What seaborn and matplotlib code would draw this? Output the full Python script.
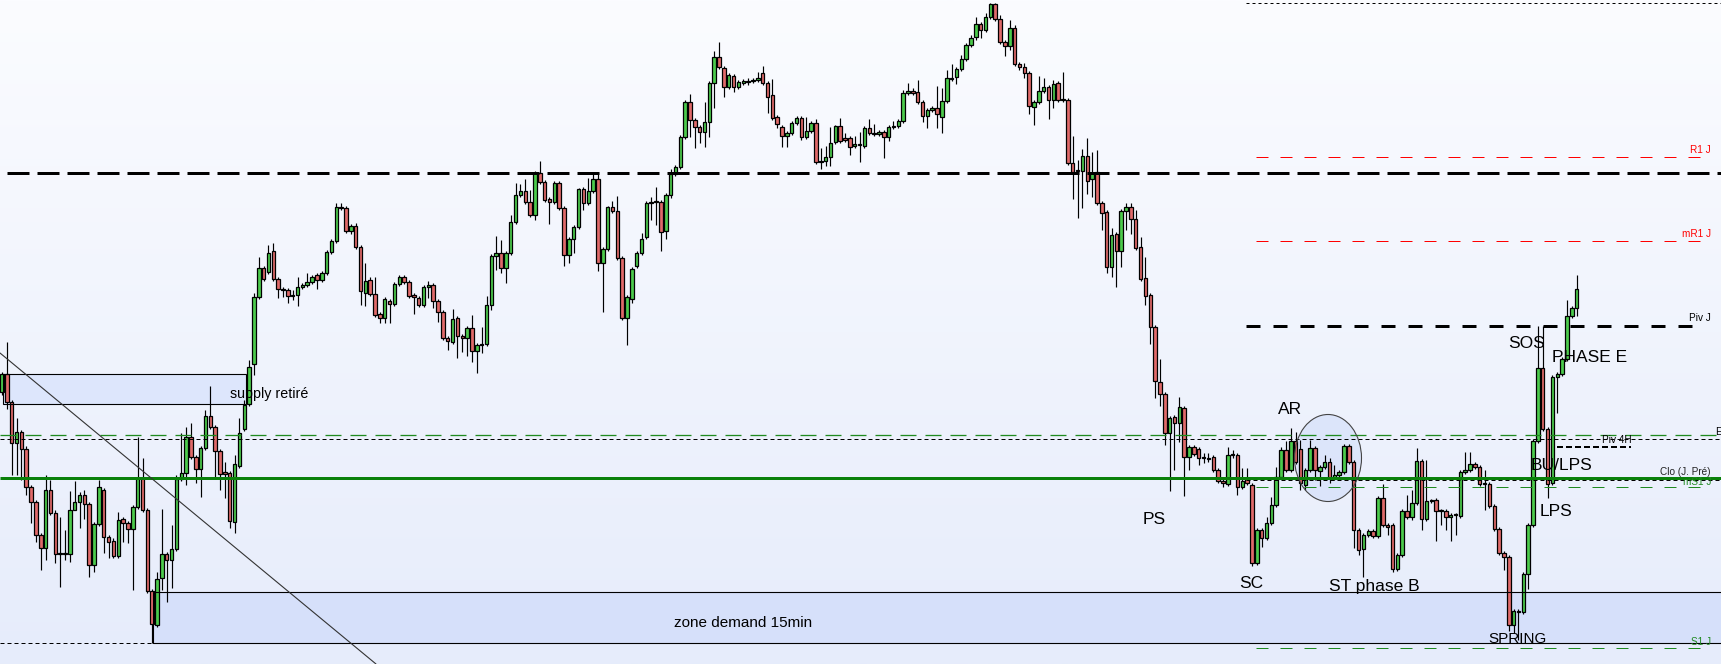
import numpy as np
import pandas as pd
import seaborn as sns
import matplotlib.pyplot as plt
from matplotlib.colors import LinearSegmentedColormap
from matplotlib.patches import Rectangle, Ellipse

sns.set_theme(style="white")
plt.rcParams['font.family'] = ['Liberation Sans', 'DejaVu Sans']

# OHLC values (price points), one entry per candle
opens = [
    272, 290, 262, 221, 232, 215, 177, 162, 129, 116,
    174, 151, 110, 111, 110, 154, 162, 169, 160, 99,
    140, 174, 127, 123, 108, 145, 141, 135, 157, 186,
    154, 73, 39, 86, 110, 104, 115, 185, 191, 227,
    207, 195, 216, 248, 237, 213, 192, 191, 142, 198,
    235, 260, 300, 367, 396, 392, 413, 385, 375, 374,
    368, 369, 377, 379, 382, 389, 384, 391, 412, 423,
    457, 456, 433, 438, 417, 371, 384, 370, 350, 346,
    363, 360, 380, 387, 382, 369, 366, 359, 377, 379,
    363, 352, 326, 322, 346, 328, 326, 336, 313, 319,
    320, 359, 408, 411, 396, 411, 442, 469, 473, 462,
    449, 491, 482, 465, 462, 481, 456, 409, 425, 437,
    475, 461, 473, 485, 401, 415, 457, 453, 406, 346,
    365, 398, 411, 427, 461, 462, 462, 433, 469, 490,
    497, 527, 562, 544, 537, 532, 542, 581, 607, 596,
    577, 588, 577, 581, 582, 583, 584, 591, 581, 569,
    547, 537, 528, 531, 541, 546, 527, 533, 541, 502,
    503, 507, 522, 538, 526, 526, 518, 519, 518, 536,
    531, 530, 532, 527, 537, 538, 543, 571, 573, 572,
    562, 548, 554, 556, 547, 563, 585, 587, 595, 605,
    619, 627, 640, 634, 647, 660, 645, 622, 618, 636,
    600, 597, 591, 557, 562, 573, 577, 564, 581, 564,
    564, 501, 494, 493, 508, 485, 492, 461, 452, 397,
    430, 413, 453, 457, 445, 417, 386, 369, 337, 282,
    270, 231, 247, 241, 256, 207, 217, 215, 206, 206,
    207, 194, 183, 180, 209, 209, 177, 185, 179, 101,
    134, 126, 141, 159, 187, 214, 194, 223, 215, 179,
    194, 216, 193, 197, 202, 186, 189, 192, 218, 202,
    134, 115, 129, 133, 128, 166, 139, 139, 95, 109,
    153, 147, 161, 203, 145, 163, 164, 153, 153, 147,
    149, 148, 192, 194, 200, 197, 180, 180, 158, 135,
    111, 107, 39, 53, 52, 90, 139, 223, 296, 235,
    181, 287, 290, 305, 348, 356,
]
closes = [
    290, 262, 221, 232, 215, 177, 162, 129, 116, 174,
    151, 110, 111, 110, 154, 162, 169, 160, 99, 140,
    177, 127, 122, 108, 144, 141, 135, 157, 186, 154,
    73, 40, 85, 110, 104, 115, 185, 191, 227, 207,
    195, 216, 248, 237, 213, 190, 190, 143, 200, 231,
    259, 297, 367, 396, 385, 411, 385, 375, 374, 368,
    369, 377, 379, 382, 387, 384, 391, 412, 423, 457,
    456, 433, 438, 417, 373, 383, 370, 349, 346, 365,
    360, 380, 387, 382, 368, 367, 359, 377, 379, 363,
    352, 326, 323, 345, 328, 326, 336, 313, 319, 320,
    359, 408, 411, 396, 411, 442, 469, 473, 462, 449,
    491, 482, 464, 462, 481, 456, 409, 425, 437, 475,
    461, 473, 485, 401, 415, 457, 453, 406, 346, 367,
    395, 411, 425, 461, 462, 462, 432, 469, 490, 497,
    527, 562, 544, 537, 532, 542, 581, 607, 597, 577,
    589, 577, 582, 583, 583, 584, 586, 581, 567, 546,
    540, 528, 531, 541, 546, 527, 533, 541, 502, 503,
    507, 521, 538, 523, 524, 517, 520, 519, 536, 531,
    530, 532, 527, 537, 538, 543, 571, 573, 571, 562,
    548, 554, 556, 550, 563, 586, 586, 595, 605, 619,
    626, 640, 634, 647, 660, 645, 622, 618, 636, 600,
    597, 591, 558, 562, 573, 577, 564, 580, 564, 564,
    501, 492, 493, 508, 483, 491, 461, 451, 397, 429,
    413, 453, 457, 445, 416, 385, 368, 337, 283, 270,
    231, 246, 241, 257, 207, 217, 210, 206, 206, 205,
    194, 183, 181, 209, 210, 177, 183, 181, 101, 134,
    126, 141, 159, 187, 214, 194, 223, 202, 181, 194,
    216, 194, 197, 202, 186, 189, 192, 218, 202, 134,
    114, 129, 133, 128, 166, 139, 137, 95, 109, 153,
    147, 161, 203, 145, 163, 163, 153, 153, 147, 149,
    149, 192, 194, 200, 197, 180, 180, 158, 135, 111,
    107, 39, 53, 52, 90, 139, 223, 296, 235, 180,
    287, 290, 305, 348, 356, 375,
]
highs = [
    292, 322, 264, 246, 234, 218, 179, 164, 131, 189,
    184, 154, 147, 134, 173, 183, 172, 174, 162, 142,
    184, 176, 129, 126, 152, 147, 143, 159, 227, 206,
    156, 75, 92, 155, 112, 139, 189, 231, 237, 241,
    209, 218, 254, 278, 239, 215, 202, 193, 209, 246,
    264, 304, 371, 407, 398, 419, 421, 387, 377, 376,
    374, 387, 381, 391, 389, 391, 393, 414, 425, 461,
    461, 458, 440, 441, 419, 401, 387, 387, 352, 367,
    365, 382, 389, 389, 384, 371, 368, 379, 383, 381,
    365, 354, 328, 355, 348, 330, 338, 349, 321, 337,
    368, 410, 428, 424, 413, 449, 481, 480, 485, 474,
    493, 503, 484, 467, 483, 483, 458, 427, 439, 476,
    477, 486, 491, 492, 417, 458, 463, 468, 408, 369,
    397, 413, 431, 463, 467, 477, 464, 471, 495, 499,
    529, 564, 570, 546, 539, 562, 583, 613, 622, 598,
    591, 590, 584, 585, 586, 586, 592, 598, 583, 585,
    549, 539, 533, 543, 548, 548, 547, 543, 545, 516,
    518, 537, 539, 546, 531, 528, 528, 532, 538, 545,
    540, 534, 534, 539, 543, 545, 574, 581, 576, 584,
    564, 556, 558, 578, 576, 594, 600, 597, 609, 621,
    629, 647, 642, 651, 661, 661, 649, 624, 644, 639,
    602, 601, 593, 564, 588, 586, 579, 584, 583, 592,
    566, 528, 504, 515, 526, 512, 514, 463, 454, 436,
    432, 455, 461, 461, 454, 427, 407, 371, 339, 305,
    272, 248, 249, 267, 258, 219, 219, 217, 211, 211,
    209, 196, 185, 217, 214, 211, 196, 196, 181, 136,
    136, 147, 167, 197, 217, 223, 236, 232, 224, 196,
    224, 218, 199, 209, 206, 199, 194, 220, 220, 204,
    136, 131, 135, 135, 168, 180, 141, 141, 111, 155,
    169, 174, 216, 205, 204, 165, 166, 155, 155, 151,
    151, 194, 212, 212, 202, 199, 194, 182, 160, 137,
    113, 109, 55, 55, 92, 141, 225, 338, 338, 237,
    289, 292, 307, 364, 358, 389,
]
lows = [
    269, 255, 189, 189, 184, 169, 141, 122, 94, 104,
    149, 101, 77, 104, 102, 159, 136, 145, 87, 92,
    138, 111, 106, 106, 106, 122, 121, 74, 155, 152,
    71, 21, 37, 74, 62, 76, 113, 183, 179, 205,
    181, 167, 214, 235, 187, 174, 166, 136, 131, 196,
    233, 258, 289, 365, 383, 390, 383, 366, 367, 361,
    364, 358, 375, 377, 380, 375, 382, 389, 410, 421,
    454, 431, 430, 415, 359, 358, 368, 347, 341, 341,
    341, 358, 378, 380, 366, 350, 357, 357, 366, 356,
    342, 324, 314, 320, 306, 312, 308, 302, 291, 311,
    318, 354, 394, 391, 381, 409, 440, 467, 460, 447,
    444, 480, 462, 440, 460, 454, 398, 401, 411, 435,
    454, 459, 471, 393, 352, 413, 451, 404, 344, 319,
    361, 396, 409, 425, 444, 439, 413, 425, 466, 488,
    495, 525, 527, 516, 521, 517, 527, 556, 595, 567,
    575, 572, 575, 579, 579, 581, 582, 579, 551, 544,
    536, 517, 517, 529, 539, 524, 525, 531, 500, 495,
    498, 498, 520, 521, 522, 509, 516, 502, 516, 529,
    528, 528, 506, 523, 535, 536, 541, 569, 569, 560,
    542, 536, 552, 536, 531, 561, 583, 580, 593, 603,
    617, 624, 626, 632, 645, 643, 620, 608, 614, 598,
    594, 586, 550, 539, 560, 571, 545, 556, 562, 562,
    499, 465, 446, 456, 470, 467, 459, 434, 391, 387,
    377, 397, 434, 430, 414, 383, 359, 320, 266, 258,
    219, 173, 194, 222, 168, 194, 208, 199, 201, 202,
    192, 181, 177, 178, 206, 169, 175, 179, 98, 99,
    117, 124, 139, 157, 185, 192, 192, 200, 174, 174,
    192, 184, 178, 195, 181, 184, 187, 190, 200, 116,
    109, 87, 127, 126, 126, 137, 129, 92, 93, 107,
    145, 144, 159, 134, 143, 161, 123, 139, 134, 123,
    129, 146, 190, 192, 195, 178, 154, 156, 133, 109,
    94, 33, 31, 24, 50, 75, 137, 221, 233, 166,
    179, 251, 288, 303, 346, 348,
]

# price levels drawn as horizontal lines
level_top = 661
level_r1 = 507
level_res = 491
level_mr1 = 423
level_piv_j = 338
level_green_dash = 229
level_piv_dot = 225
level_piv_4h = 217
level_clo = 186
level_clo_dot = 184
level_ms1 = 177
level_s1 = 16
demand_zone = (21, 72)
supply_zone = (260, 290)

df = pd.DataFrame({'open': opens, 'high': highs, 'low': lows, 'close': closes})
df['idx'] = np.arange(len(df))
df['up'] = df['close'] >= df['open']

W, H = 1721, 664
STEP = 4.845  # pixels between candles


def px(xp):
    return (xp - 2) / STEP


fig = plt.figure(figsize=(W / 100, H / 100), dpi=100)
ax = fig.add_axes([0, 0, 1, 1])
x0, x1 = px(0), px(W)
ax.set_xlim(x0, x1)
ax.set_ylim(0, 664)
ax.axis('off')

# background gradient
grad = np.linspace(0, 1, 256).reshape(-1, 1)
bg = LinearSegmentedColormap.from_list('bg', ['#e6ecfb', '#fbfcff'])
ax.imshow(grad, aspect='auto', cmap=bg, extent=[x0, x1, 0, 664], origin='lower', zorder=0)

# zones
ax.add_patch(Rectangle((px(153), demand_zone[0]), px(W + 5) - px(153), demand_zone[1] - demand_zone[0],
                       facecolor='#d6e0fa', edgecolor='none', zorder=1))
ax.add_patch(Rectangle((px(153), demand_zone[0]), px(W + 5) - px(153), demand_zone[1] - demand_zone[0],
                       facecolor='none', edgecolor='black', lw=0.8, zorder=5))
ax.add_patch(Rectangle((px(3), supply_zone[0]), px(246) - px(3), supply_zone[1] - supply_zone[0],
                       facecolor='#dde6fc', edgecolor='none', zorder=1))
ax.add_patch(Rectangle((px(3), supply_zone[0]), px(246) - px(3), supply_zone[1] - supply_zone[0],
                       facecolor='none', edgecolor='black', lw=0.8, zorder=5))

# circle around the test area
ell_xy = (px(1328), 206)
ax.add_patch(Ellipse(ell_xy, 67 / STEP, 87, facecolor='#d8e2fa', edgecolor='none', alpha=0.8, zorder=1.5))
ax.add_patch(Ellipse(ell_xy, 67 / STEP, 87, facecolor='none', edgecolor='#444444', lw=0.8, zorder=5))

# candles
colors = np.where(df['up'], '#4ccb4c', '#e06a6a')
ax.vlines(df['idx'], df['low'], df['high'], color='black', lw=0.85, zorder=3)
body_bottom = np.minimum(df['open'], df['close'])
body_height = np.maximum(np.abs(df['close'] - df['open']), 1.0)
ax.bar(df['idx'], body_height, bottom=body_bottom, width=0.72, color=colors,
       edgecolor='black', linewidth=0.9, zorder=3.5)


def hline(level, xa, xb, color, lw_px, on=None, off=None, z=4):
    ls = '-' if on is None else (0, (on / lw_px, off / lw_px))
    ax.plot([px(xa), px(xb)], [level, level], color=color, lw=lw_px * 0.72, ls=ls,
            zorder=z, solid_capstyle='butt', dash_capstyle='butt')


hline(level_top, 1246, W, 'black', 1, 3, 3)
hline(level_r1, 1256, 1712, '#ff0000', 1, 12, 12)
hline(level_res, 7, W, 'black', 3, 22, 8)
hline(level_mr1, 1256, 1712, '#ff0000', 1, 12, 12)
hline(level_piv_j, 1246, 1700, 'black', 3, 14, 13)
hline(level_green_dash, 0, W, '#1f8a1f', 1.3, 16, 9)
hline(level_piv_dot, 0, W, 'black', 1, 4, 3)
hline(level_piv_4h, 1557, 1631, 'black', 2, 6, 3)
hline(level_clo, 0, W, '#0a800a', 3)
hline(level_clo_dot, 1246, W, 'black', 1, 4, 3)
hline(level_ms1, 1256, 1712, '#1f8a1f', 1, 12, 12)
hline(level_s1, 1256, 1712, '#1f8a1f', 1, 12, 12)
hline(demand_zone[0], 0, 153, 'black', 1, 4, 3)

# trend line
ax.plot([px(0), px(376)], [311, 0], color='#333333', lw=0.8, zorder=5)


def label(xp, yp, s, size, color='black', ha='center'):
    ax.text(px(xp), 664 - yp, s, fontsize=size, color=color, ha=ha, va='center', zorder=6)


label(1154, 519, 'PS', 12.5)
label(1251, 584, 'SC', 12.5)
label(1290, 410, 'AR', 12.5)
label(1374, 587, 'ST phase B', 12.5)
label(1517, 639, 'SPRING', 11)
label(1527, 344, 'SOS', 12.5)
label(1590, 357, 'PHASE E', 12.5)
label(1561, 465, 'BU/LPS', 12.5)
label(1556, 512, 'LPS', 12.5)
label(269, 394, 'supply retiré', 10.3)
label(743, 623, 'zone demand 15min', 11)

label(1711, 150, 'R1 J', 7.2, '#ff0000', 'right')
label(1711, 234, 'mR1 J', 7.2, '#ff0000', 'right')
label(1711, 318, 'Piv J', 7.2, 'black', 'right')
label(1632, 440, 'Piv 4H', 7.2, 'black', 'right')
label(1711, 472, 'Clo (J. Pré)', 7.2, '#222222', 'right')
label(1711, 482, 'mS1 J', 7.2, '#1f8a1f', 'right')
label(1711, 642, 'S1 J', 7.2, '#1f8a1f', 'right')
label(1715, 432, 'E', 7.2, 'black', 'left')

fig.savefig('out.png', dpi=100)
